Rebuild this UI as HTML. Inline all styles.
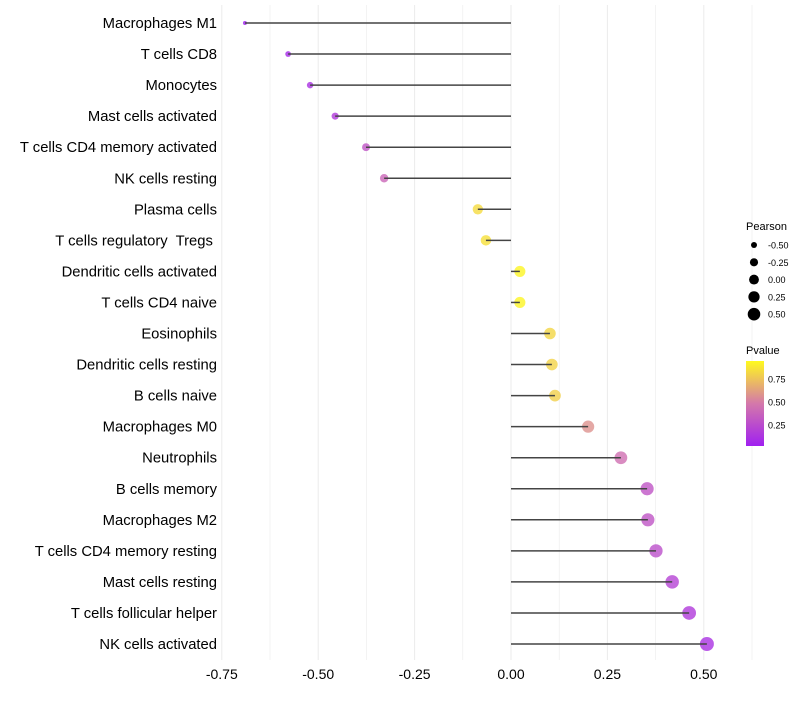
<!DOCTYPE html>
<html><head><meta charset="utf-8"><style>
body{margin:0;background:#fff;}
svg text{font-family:"Liberation Sans",sans-serif;}
</style></head><body>
<svg width="800" height="700" id="chart"></svg>
<script>
const categories=["Macrophages M1","T cells CD8","Monocytes","Mast cells activated","T cells CD4 memory activated","NK cells resting","Plasma cells","T cells regulatory\u00a0 Tregs\u00a0","Dendritic cells activated","T cells CD4 naive","Eosinophils","Dendritic cells resting","B cells naive","Macrophages M0","Neutrophils","B cells memory","Macrophages M2","T cells CD4 memory resting","Mast cells resting","T cells follicular helper","NK cells activated"];
const pearson=[-0.69,-0.578,-0.521,-0.456,-0.376,-0.329,-0.086,-0.065,0.023,0.023,0.101,0.106,0.114,0.2,0.285,0.353,0.355,0.376,0.418,0.462,0.508];
const pvalue=[0.0,0.05,0.1,0.15,0.3,0.4,0.88,0.9,0.98,0.98,0.86,0.85,0.84,0.6,0.45,0.3,0.3,0.27,0.2,0.15,0.1];
const xTicks=[-0.75,-0.5,-0.25,0,0.25,0.5];
const xTickLabels=["-0.75","-0.50","-0.25","0.00","0.25","0.50"];
const sizeLegend=[-0.5,-0.25,0,0.25,0.5];
const sizeLegendLabels=["-0.50","-0.25","0.00","0.25","0.50"];
const pLegend=[0.25,0.5,0.75];

const NS="http://www.w3.org/2000/svg";
const svg=document.getElementById('chart');
const x=v=>511+v*385.6;
const y=i=>23+i*31.05;
const r=v=>Math.sqrt(Math.max(1,4+37.5*(v+0.69)));
function col(p){
  const s=[[160,32,240],[212,120,170],[255,250,30]];
  let a,b,t;
  if(p<0.5){a=s[0];b=s[1];t=p/0.5;}else{a=s[1];b=s[2];t=(p-0.5)/0.5;}
  return `rgb(${a.map((c,k)=>Math.round(c+(b[k]-c)*t)).join(',')})`;
}
function mk(tag,attrs){const e=document.createElementNS(NS,tag);for(const k in attrs)e.setAttribute(k,attrs[k]);svg.appendChild(e);return e;}
for(let v=-0.75;v<=0.626;v+=0.125){
  const g=mk('line',{x1:x(v),x2:x(v),y1:5,y2:660,stroke:'#ebebeb','stroke-width':Math.abs(v/0.25-Math.round(v/0.25))<1e-6?1:0.6});
  
  
}
xTicks.forEach((v,i)=>{
  const t=mk('text',{x:x(v),y:679,'text-anchor':'middle','font-size':14,fill:'#000'});
  t.textContent=xTickLabels[i];
  
  
});
categories.forEach((c,i)=>{
  const t=mk('text',{x:217,y:y(i)+5,'text-anchor':'end','font-size':14.8,fill:'#000'});
  t.textContent=c;
  
  
  const ci=mk('circle',{cx:x(pearson[i]),cy:y(i),r:r(pearson[i]),fill:col(pvalue[i]),'fill-opacity':0.8});
  
  
  const l=mk('line',{x1:x(0),x2:x(pearson[i]),y1:y(i),y2:y(i),stroke:'#444','stroke-width':1.5});
  
  
});
let t=mk('text',{x:746,y:230,'font-size':11});t.textContent='Pearson';


sizeLegend.forEach((v,i)=>{
  const cy=245+i*17.3;
  const c=mk('circle',{cx:754,cy:cy,r:r(v)*0.9,fill:'#000'});
  
  
  const tt=mk('text',{x:768,y:cy+3.5,'font-size':9});tt.textContent=sizeLegendLabels[i];
  
  
});
t=mk('text',{x:746,y:354,'font-size':11});t.textContent='Pvalue';


const defs=mk('defs',{});
const lg=document.createElementNS(NS,'linearGradient');lg.setAttribute('id','pg');lg.setAttribute('x1',0);lg.setAttribute('x2',0);lg.setAttribute('y1',1);lg.setAttribute('y2',0);
defs.appendChild(lg);
[0.0,0.25,0.5,0.75,1.0].forEach(p=>{const s=document.createElementNS(NS,'stop');s.setAttribute('offset',p);s.setAttribute('stop-color',col(p));lg.appendChild(s);});
const bar=mk('rect',{x:746,y:361,width:18,height:85,fill:'url(#pg)'});


pLegend.forEach(p=>{
  const yy=446-(p-0.022)/(0.924)*85;
  const tt=mk('text',{x:768,y:yy+3.5,'font-size':9});tt.textContent=p.toFixed(2);
  
  
});
</script>
</body></html>
